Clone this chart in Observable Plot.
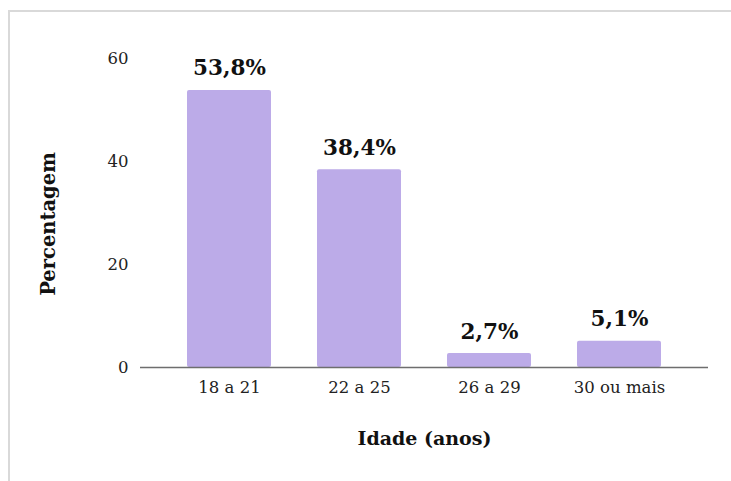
<!DOCTYPE html>
<html>
<head>
<meta charset="utf-8">
<script src="https://cdn.jsdelivr.net/npm/d3@7"></script>
<script src="https://cdn.jsdelivr.net/npm/@observablehq/plot@0.6"></script>
<style>
  html, body { margin: 0; padding: 0; background: #fff; }
  #wrap { position: relative; width: 731px; height: 481px; overflow: hidden; }
  #frame { position: absolute; left: 8px; top: 10px; width: 730px; height: 480px;
           border-top: 2px solid #d9d9d9; border-left: 2px solid #d9d9d9; pointer-events: none; }
</style>
</head>
<body>
<div id="wrap"><div id="frame"></div></div>
<script>
const categories = ["18 a 21", "22 a 25", "26 a 29", "30 ou mais"];
const values = [53.8, 38.4, 2.7, 5.1];
const valueLabels = ["53,8%", "38,4%", "2,7%", "5,1%"];
const yTicks = [0, 20, 40, 60];

const data = categories.map((c, i) => ({ cat: c, v: values[i], label: valueLabels[i] }));

const chart = Plot.plot({
  width: 731,
  height: 481,
  marginLeft: 140,
  marginRight: 23,
  marginTop: 58,
  marginBottom: 114,
  style: { fontFamily: "DejaVu Serif", fontSize: "16px", color: "#222", background: "transparent" },
  x: { domain: categories, paddingInner: 0.355, paddingOuter: 0.3555, label: null },
  y: { domain: [0, 60], label: null },
  marks: [
    Plot.barY(data, { x: "cat", y: "v", fill: "#bcabe8", rx: 2 }),
    Plot.ruleY([0], { stroke: "#6e6e6e", strokeWidth: 1.5 }),
    Plot.axisX({ tickSize: 0, tickPadding: 14, fontSize: 16.5, fill: "#222", label: null }),
    Plot.axisY({ ticks: yTicks, tickSize: 0, tickPadding: 12, fontSize: 16.5, fill: "#222", label: null }),
    Plot.text(data, { x: "cat", y: "v", text: "label", lineAnchor: "bottom", dy: -15,
                      fontSize: 21.5, fontWeight: "bold", fill: "#111" }),
    Plot.text(["Percentagem"], { frameAnchor: "left", textAnchor: "middle", dx: -92, dy: 11, rotate: -90,
                      fontSize: 19.5, fontWeight: "bold", fill: "#111" }),
    Plot.text(["Idade (anos)"], { frameAnchor: "bottom", dy: 77,
                      fontSize: 19, fontWeight: "bold", fill: "#111" })
  ]
});
document.getElementById("wrap").insertBefore(chart, document.getElementById("frame"));
</script>
</body>
</html>
